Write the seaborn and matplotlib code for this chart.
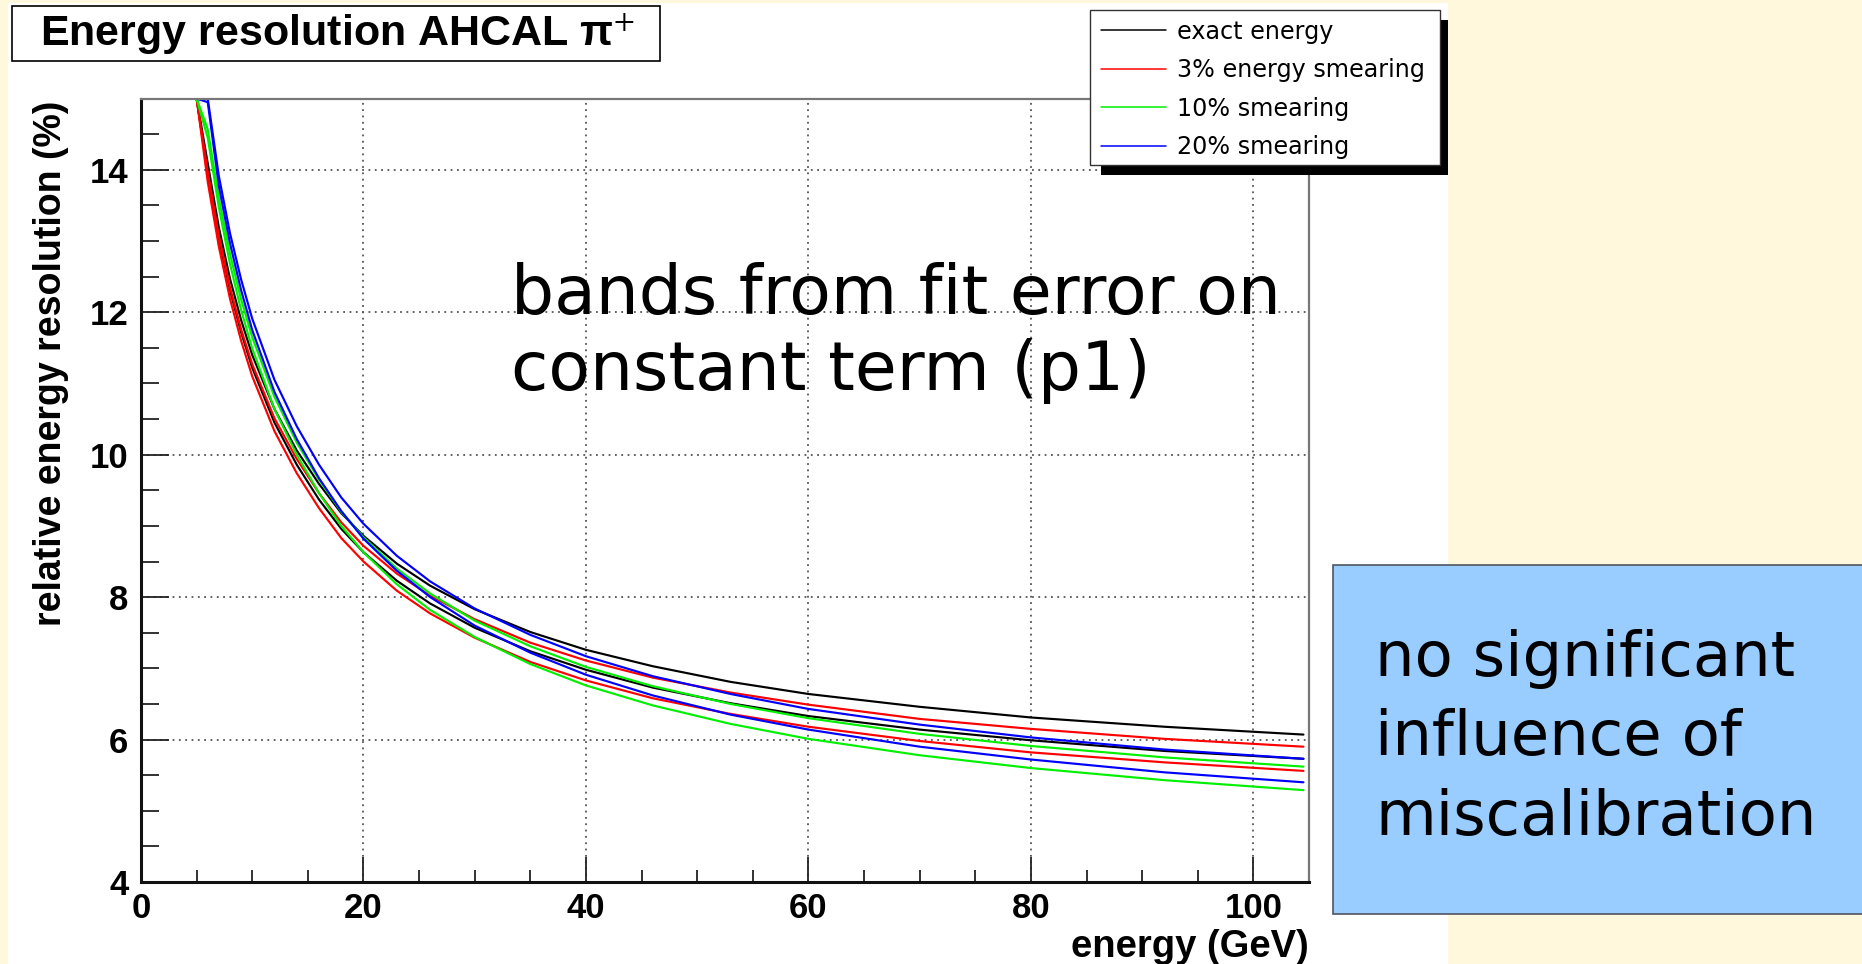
import numpy as np
import pandas as pd
import matplotlib
matplotlib.use("Agg")
import matplotlib.pyplot as plt
from matplotlib.patches import Rectangle
from matplotlib.lines import Line2D
from matplotlib.ticker import MultipleLocator
import seaborn as sns

# ---------------- data ----------------
energy = [5, 6, 7, 8, 9, 10, 12, 14, 16, 18, 20, 23, 26, 30, 35, 40, 46, 53, 60, 70, 80, 92, 104.5]

exact_hi = [15.0, 14.09, 13.19, 12.47, 11.89, 11.40, 10.64, 10.06, 9.59, 9.18, 8.86, 8.47, 8.16, 7.83, 7.51, 7.26, 7.03, 6.81, 6.64, 6.46, 6.31, 6.18, 6.07]
exact_lo = [15.0, 13.95, 13.04, 12.31, 11.72, 11.22, 10.45, 9.86, 9.37, 8.96, 8.63, 8.23, 7.91, 7.57, 7.24, 6.98, 6.73, 6.51, 6.33, 6.14, 5.99, 5.84, 5.73]
smear3_hi = [15.0, 13.97, 13.07, 12.35, 11.76, 11.27, 10.51, 9.94, 9.46, 9.05, 8.72, 8.33, 8.02, 7.69, 7.36, 7.11, 6.87, 6.66, 6.49, 6.29, 6.15, 6.01, 5.90]
smear3_lo = [15.0, 13.83, 12.92, 12.19, 11.60, 11.10, 10.33, 9.74, 9.25, 8.83, 8.50, 8.09, 7.77, 7.43, 7.09, 6.83, 6.58, 6.36, 6.18, 5.98, 5.82, 5.68, 5.56]
smear10_hi = [15.0, 14.57, 13.60, 12.82, 12.18, 11.65, 10.81, 10.17, 9.65, 9.20, 8.84, 8.40, 8.05, 7.67, 7.31, 7.02, 6.75, 6.50, 6.30, 6.08, 5.91, 5.75, 5.62]
smear10_lo = [15.0, 14.45, 13.47, 12.68, 12.03, 11.49, 10.64, 10.00, 9.46, 9.00, 8.63, 8.18, 7.82, 7.44, 7.06, 6.76, 6.48, 6.22, 6.01, 5.78, 5.60, 5.43, 5.29]
smear20_hi = [15.0, 15.0, 13.91, 13.11, 12.46, 11.91, 11.05, 10.40, 9.86, 9.40, 9.03, 8.58, 8.22, 7.84, 7.47, 7.17, 6.89, 6.64, 6.43, 6.21, 6.03, 5.86, 5.73]
smear20_lo = [15.0, 14.95, 13.77, 12.97, 12.31, 11.75, 10.88, 10.22, 9.67, 9.21, 8.82, 8.37, 8.00, 7.60, 7.22, 6.91, 6.62, 6.35, 6.14, 5.90, 5.72, 5.54, 5.40]

series_names = ["exact energy", "3% energy smearing", "10% smearing", "20% smearing"]
series_colors = ["#000000", "#FF0000", "#00F000", "#0000FF"]

x_ticks = [0, 20, 40, 60, 80, 100]
y_ticks = [4, 6, 8, 10, 12, 14]

title_text = "Energy resolution AHCAL π$^{+}$"
x_label = "energy (GeV)"
y_label = "relative energy resolution (%)"
note_text = "bands from fit error on\nconstant term (p1)"
box_text = "no significant\ninfluence of\nmiscalibration"

# ---------------- build long table ----------------
bands = {
    series_names[0]: (exact_hi, exact_lo),
    series_names[1]: (smear3_hi, smear3_lo),
    series_names[2]: (smear10_hi, smear10_lo),
    series_names[3]: (smear20_hi, smear20_lo),
}
rows = []
for name, (hi, lo) in bands.items():
    for e, v in zip(energy, hi):
        rows.append((name, "hi", e, v))
    for e, v in zip(energy, lo):
        rows.append((name, "lo", e, v))
df = pd.DataFrame(rows, columns=["series", "band", "energy", "resolution"])

# ---------------- style ----------------
sns.set_style("white")
plt.rcParams["font.family"] = ["Liberation Sans", "DejaVu Sans"]
plt.rcParams["mathtext.fontset"] = "stix"
for key in ["text.color", "axes.labelcolor", "xtick.labelcolor", "ytick.labelcolor"]:
    plt.rcParams[key] = "black"

W, H = 1862, 964
def fx(px):
    return px / W
def fy(py):
    return 1 - py / H

fig = plt.figure(figsize=(W / 100, H / 100), dpi=100, facecolor="#FFF8DC")

# white slide panel
fig.add_artist(Rectangle((fx(8), fy(964)), fx(1448) - fx(8), fy(3) - fy(964),
                         transform=fig.transFigure, facecolor="white",
                         edgecolor="none", zorder=-10))

ax = fig.add_axes([fx(141), fy(882), fx(1309) - fx(141), (882 - 98.6) / H])
ax.set_facecolor("white")

palette = dict(zip(series_names, series_colors))
sns.lineplot(data=df, x="energy", y="resolution", hue="series", units="band",
             estimator=None, sort=False, palette=palette, legend=False,
             linewidth=1.55, ax=ax)

ax.set_xlim(0, 105)
ax.set_ylim(4, 15)
ax.set_xticks(x_ticks)
ax.set_yticks(y_ticks)
ax.xaxis.set_minor_locator(MultipleLocator(5))
ax.yaxis.set_minor_locator(MultipleLocator(0.5))
ax.set_xticklabels([str(t) for t in x_ticks], fontweight="bold", fontsize=25, color="black")
ax.set_yticklabels([str(t) for t in y_ticks], fontweight="bold", fontsize=25, color="black")

ax.tick_params(axis="x", which="major", direction="in", length=18, width=1.3,
               color="#222222", pad=7, top=False, bottom=True)
ax.tick_params(axis="x", which="minor", direction="in", length=8.5, width=1.3,
               color="#222222", top=False, bottom=True)
ax.tick_params(axis="y", which="major", direction="in", length=20, width=1.3,
               color="#222222", pad=9, right=False, left=True)
ax.tick_params(axis="y", which="minor", direction="in", length=13, width=1.3,
               color="#222222", right=False, left=True)

ax.grid(True, which="major", linestyle=(0, (1, 2.5)), color="#555555", linewidth=1.3)
ax.set_axisbelow(True)

for side in ["left", "bottom"]:
    ax.spines[side].set_linewidth(2.2)
    ax.spines[side].set_color("#111111")
for side in ["top", "right"]:
    ax.spines[side].set_linewidth(1.6)
    ax.spines[side].set_color("#777777")

ax.set_xlabel(x_label, fontweight="bold", fontsize=27.5, ha="right", color="black")
ax.xaxis.set_label_coords(1.0, -0.060)
ax.xaxis.label.set_verticalalignment("top")
ax.set_ylabel(y_label, fontweight="bold", fontsize=27, ha="right", va="center", color="black")
ax.yaxis.set_label_coords(-0.077, 0.997)

# title box
fig.add_artist(Rectangle((fx(12), fy(61)), fx(660) - fx(12), fy(6) - fy(61),
                         transform=fig.transFigure, facecolor="white",
                         edgecolor="black", linewidth=1.2, zorder=3))
fig.text(fx(40), fy(34), title_text, fontsize=31, fontweight="bold",
         ha="left", va="center", color="black", zorder=4)

# legend box with ROOT-like black shadow
fig.add_artist(Rectangle((fx(1101), fy(175)), fx(1448) - fx(1101), fy(20) - fy(175),
                         transform=fig.transFigure, facecolor="black",
                         edgecolor="none", zorder=3))
fig.add_artist(Rectangle((fx(1090), fy(165)), fx(1440) - fx(1090), fy(10) - fy(165),
                         transform=fig.transFigure, facecolor="white",
                         edgecolor="#333333", linewidth=1.0, zorder=4))
handles = [Line2D([], [], color=c, linewidth=1.1) for c in series_colors]
leg = fig.legend(handles, series_names, loc="upper left",
                 bbox_to_anchor=(fx(1101), fy(19.5)), frameon=False,
                 prop={"family": "DejaVu Sans", "size": 17.2},
                 handlelength=2.7, handletextpad=0.5, labelspacing=0.61,
                 borderaxespad=0, borderpad=0, labelcolor="black")
leg.set_zorder(5)

# annotation inside the plot
fig.text(fx(511), fy(262), note_text, fontsize=49, family="DejaVu Sans",
         ha="left", va="top", linespacing=1.19, color="black", zorder=6)

# blue note box on the right
fig.add_artist(Rectangle((fx(1333), fy(914)), fx(1875) - fx(1333), fy(565) - fy(914),
                         transform=fig.transFigure, facecolor="#99CCFF",
                         edgecolor="#505560", linewidth=1.2, zorder=3))
fig.text(fx(1375), fy(629), box_text, fontsize=45, family="DejaVu Sans",
         ha="left", va="top", linespacing=1.41, color="black", zorder=4)

fig.savefig("out.png", dpi=100, facecolor=fig.get_facecolor())
